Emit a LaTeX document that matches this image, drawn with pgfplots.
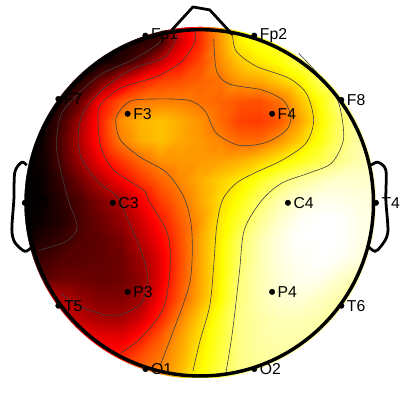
\documentclass[border=0pt]{standalone}
\usepackage{fontspec}
\setmainfont{Liberation Sans}
\usepackage{pgfplots}
\pgfplotsset{compat=1.18}
\pgfplotstableread[col sep=comma]{
lab,x,y
Fp1,145,34
Fp2,255,34
F7,57,98
F8,343,99
F3,127,113
F4,273,113
T3,23,203
T4,378,203
C3,112,203
C4,289,203
T5,57,307
T6,343,307
P3,127,293
P4,273,293
O1,145,371
O2,255,371
}\electrodes
\begin{document}
\begin{tikzpicture}[x=1bp,y=1bp]
\begin{axis}[
  at={(0,0)},anchor=south west,
  width=400bp,height=400bp,scale only axis,
  xmin=0,xmax=400,ymin=0,ymax=400,y dir=reverse,
  hide axis,clip=false,
  colormap={myhot}{rgb(0cm)=(0,0,0) rgb(3cm)=(1,0,0) rgb(6cm)=(1,1,0) rgb(8cm)=(1,1,1)},
  point meta min=0,point meta max=100,
]
\addplot[surf,shader=interp,mesh/cols=19,mesh/ordering=x varies,point meta=explicit] coordinates {
(20,20)[0] (40,20)[0] (60,20)[0] (80,20)[0] (100,20)[1] (120,20)[2] (140,20)[5] (160,20)[9] (180,20)[33] (200,20)[45] (220,20)[61] (240,20)[74] (260,20)[78] (280,20)[80] (300,20)[82] (320,20)[85] (340,20)[90] (360,20)[92] (380,20)[93]

(20,40)[0] (40,40)[0] (60,40)[0] (80,40)[0] (100,40)[1] (120,40)[3] (140,40)[6] (160,40)[9] (180,40)[31] (200,40)[44] (220,40)[60] (240,40)[73] (260,40)[78] (280,40)[80] (300,40)[83] (320,40)[87] (340,40)[90] (360,40)[92] (380,40)[93]

(20,60)[0] (40,60)[0] (60,60)[0] (80,60)[1] (100,60)[2] (120,60)[6] (140,60)[14] (160,60)[28] (180,60)[39] (200,60)[48] (220,60)[58] (240,60)[67] (260,60)[72] (280,60)[76] (300,60)[83] (320,60)[89] (340,60)[92] (360,60)[93] (380,60)[94]

(20,80)[0] (40,80)[0] (60,80)[2] (80,80)[6] (100,80)[17] (120,80)[30] (140,80)[41] (160,80)[47] (180,80)[49] (200,80)[52] (220,80)[54] (240,80)[60] (260,80)[62] (280,80)[67] (300,80)[73] (320,80)[84] (340,80)[90] (360,80)[93] (380,80)[95]

(20,100)[0] (40,100)[1] (60,100)[5] (80,100)[16] (100,100)[39] (120,100)[50] (140,100)[55] (160,100)[56] (180,100)[56] (200,100)[54] (220,100)[52] (240,100)[50] (260,100)[49] (280,100)[54] (300,100)[65] (320,100)[75] (340,100)[87] (360,100)[92] (380,100)[95]

(20,120)[0] (40,120)[1] (60,120)[10] (80,120)[25] (100,120)[43] (120,120)[59] (140,120)[64] (160,120)[66] (180,120)[63] (200,120)[59] (220,120)[53] (240,120)[47] (260,120)[46] (280,120)[50] (300,120)[61] (320,120)[73] (340,120)[84] (360,120)[91] (380,120)[95]

(20,140)[0] (40,140)[2] (60,140)[12] (80,140)[27] (100,140)[42] (120,140)[56] (140,140)[63] (160,140)[66] (180,140)[62] (200,140)[60] (220,140)[57] (240,140)[53] (260,140)[53] (280,140)[59] (300,140)[67] (320,140)[76] (340,140)[85] (360,140)[91] (380,140)[95]

(20,160)[0] (40,160)[2] (60,160)[11] (80,160)[24] (100,160)[37] (120,160)[46] (140,160)[53] (160,160)[59] (180,160)[60] (200,160)[60] (220,160)[61] (240,160)[63] (260,160)[67] (280,160)[72] (300,160)[77] (320,160)[82] (340,160)[88] (360,160)[92] (380,160)[94]

(20,180)[0] (40,180)[1] (60,180)[8] (80,180)[17] (100,180)[27] (120,180)[37] (140,180)[45] (160,180)[52] (180,180)[58] (200,180)[63] (220,180)[68] (240,180)[72] (260,180)[78] (280,180)[85] (300,180)[90] (320,180)[93] (340,180)[95] (360,180)[95] (380,180)[95]

(20,200)[0] (40,200)[1] (60,200)[6] (80,200)[12] (100,200)[19] (120,200)[25] (140,200)[36] (160,200)[46] (180,200)[54] (200,200)[62] (220,200)[70] (240,200)[76] (260,200)[85] (280,200)[92] (300,200)[96] (320,200)[98] (340,200)[98] (360,200)[97] (380,200)[96]

(20,220)[0] (40,220)[2] (60,220)[5] (80,220)[11] (100,220)[16] (120,220)[22] (140,220)[31] (160,220)[41] (180,220)[51] (200,220)[60] (220,220)[72] (240,220)[80] (260,220)[89] (280,220)[95] (300,220)[99] (320,220)[100] (340,220)[100] (360,220)[98] (380,220)[97]

(20,240)[1] (40,240)[5] (60,240)[8] (80,240)[12] (100,240)[14] (120,240)[18] (140,240)[27] (160,240)[37] (180,240)[49] (200,240)[62] (220,240)[73] (240,240)[84] (260,240)[92] (280,240)[97] (300,240)[100] (320,240)[100] (340,240)[100] (360,240)[98] (380,240)[96]

(20,260)[5] (40,260)[9] (60,260)[12] (80,260)[13] (100,260)[14] (120,260)[16] (140,260)[23] (160,260)[34] (180,260)[48] (200,260)[62] (220,260)[74] (240,260)[85] (260,260)[92] (280,260)[97] (300,260)[99] (320,260)[100] (340,260)[99] (360,260)[97] (380,260)[95]

(20,280)[10] (40,280)[13] (60,280)[16] (80,280)[16] (100,280)[15] (120,280)[16] (140,280)[21] (160,280)[34] (180,280)[49] (200,280)[62] (220,280)[74] (240,280)[87] (260,280)[92] (280,280)[96] (300,280)[98] (320,280)[98] (340,280)[95] (360,280)[92] (380,280)[90]

(20,300)[33] (40,300)[30] (60,300)[26] (80,300)[22] (100,300)[19] (120,300)[19] (140,300)[23] (160,300)[37] (180,300)[51] (200,300)[63] (220,300)[75] (240,300)[87] (260,300)[92] (280,300)[95] (300,300)[96] (320,300)[94] (340,300)[92] (360,300)[90] (380,300)[88]

(20,320)[38] (40,320)[35] (60,320)[31] (80,320)[28] (100,320)[25] (120,320)[25] (140,320)[31] (160,320)[43] (180,320)[57] (200,320)[68] (220,320)[79] (240,320)[88] (260,320)[91] (280,320)[93] (300,320)[93] (320,320)[92] (340,320)[90] (360,320)[88] (380,320)[86]

(20,340)[42] (40,340)[41] (60,340)[40] (80,340)[38] (100,340)[35] (120,340)[34] (140,340)[41] (160,340)[51] (180,340)[61] (200,340)[71] (220,340)[80] (240,340)[88] (260,340)[91] (280,340)[92] (300,340)[92] (320,340)[90] (340,340)[88] (360,340)[86] (380,340)[85]

(20,360)[44] (40,360)[43] (60,360)[42] (80,360)[42] (100,360)[41] (120,360)[43] (140,360)[49] (160,360)[55] (180,360)[63] (200,360)[73] (220,360)[81] (240,360)[88] (260,360)[90] (280,360)[91] (300,360)[90] (320,360)[88] (340,360)[86] (360,360)[85] (380,360)[84]

(20,380)[46] (40,380)[45] (60,380)[45] (80,380)[45] (100,380)[45] (120,380)[47] (140,380)[53] (160,380)[58] (180,380)[66] (200,380)[75] (220,380)[83] (240,380)[88] (260,380)[90] (280,380)[90] (300,380)[88] (320,380)[86] (340,380)[85] (360,380)[84] (380,380)[84]
};
% mask outside the scalp
\fill[white,even odd rule] (axis cs:-2,-2) rectangle (axis cs:402,402)
  (axis cs:200.5,203) circle [radius=178];
% contours
\addplot[smooth,black!75,line width=0.6pt] coordinates {(37,251) (63,243) (75,232) (75,222) (67,200) (57,160) (55,140) (60,113) (77,93) (100,73) (133,58) (157,43) (163,35)};
\addplot[smooth,black!75,line width=0.6pt] coordinates {(60,295) (80,308) (107,317) (123,315) (142,303) (147,277) (140,250) (127,220) (117,197) (97,182) (80,157) (77,133) (83,110) (103,87) (133,67) (163,57) (173,43) (177,33)};
\addplot[smooth,black!75,line width=0.6pt] coordinates {(120,355) (140,340) (163,310) (170,267) (167,233) (148,200) (143,190) (113,170) (100,147) (97,117) (100,103) (120,87) (157,75) (182,60) (195,40) (195,30)};
\addplot[smooth,black!75,line width=0.6pt] coordinates {(160,367) (173,333) (190,283) (192,233) (185,200) (167,173) (140,157) (120,140) (115,123) (117,113) (130,100) (157,98) (187,99) (200,105) (207,113) (217,133) (240,145) (267,142) (287,130) (292,117) (285,100) (263,89) (230,83) (217,70) (214,37)};
\addplot[smooth,black!75,line width=0.6pt] coordinates {(193,373) (200,343) (210,307) (214,267) (217,227) (223,200) (237,183) (257,172) (283,160) (307,143) (315,120) (308,93) (290,77) (257,65) (237,50) (233,33)};
\addplot[smooth,black!75,line width=0.6pt] coordinates {(226,377) (233,333) (240,273) (245,230) (263,200) (283,183) (310,173) (333,163) (345,140) (343,113) (337,95) (317,70) (300,52)};
% head
\draw[black,line width=3.5bp] (axis cs:200.5,203) circle [radius=175];
\addplot[black,line width=2.8bp,line join=round] coordinates {(172,28) (193,5) (210,8) (233,33)};
\addplot[smooth,black,line width=2.8bp] coordinates {(25,165) (20,162) (13,172) (12,200) (10,230) (13,243) (23,252) (30,248)};
\addplot[smooth,black,line width=2.8bp] coordinates {(373,165) (380,162) (388,170) (388,200) (390,233) (383,247) (377,252) (370,247)};
% electrodes
\addplot[only marks,mark=*,mark size=2.8pt,black,
  nodes near coords,point meta=explicit symbolic,
  nodes near coords style={anchor=west,inner sep=0pt,xshift=5.5bp,text=black,
    font=\fontsize{16}{18}\selectfont}]
  table[x=x,y=y,meta=lab] {\electrodes};
\path (axis cs:0,0) rectangle (axis cs:400,400);
\end{axis}
\end{tikzpicture}
\end{document}
